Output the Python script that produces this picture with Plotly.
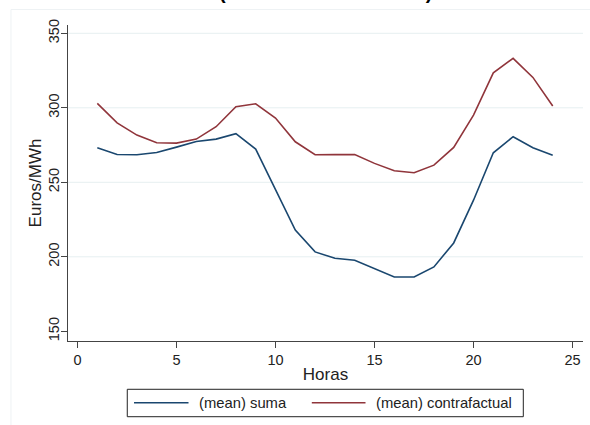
import plotly.graph_objects as go

horas = list(range(1, 25))
suma = [273.2, 268.7, 268.5, 270.0, 273.6, 277.4, 279.0, 282.6, 272.3, 244.7, 217.9, 203.3,
        199.0, 197.7, 192.1, 186.5, 186.5, 193.2, 209.3, 238.0, 269.8, 280.6, 273.2, 268.2]
contrafactual = [303.0, 289.9, 281.7, 276.5, 276.3, 279.0, 287.3, 300.7, 302.7, 293.1, 277.2, 268.5,
                 268.6, 268.7, 262.7, 257.7, 256.4, 261.5, 273.4, 295.1, 323.5, 333.2, 320.4, 301.2]
x_ticks = [0, 5, 10, 15, 20, 25]
y_ticks = [150, 200, 250, 300, 350]
series_names = ["(mean) suma", "(mean) contrafactual"]
series_colors = ["#1a476f", "#90353b"]
title_text = "(Precio medio horario)"

FONT = "Liberation Sans, Arial, sans-serif"

fig = go.Figure()
for name, vals, col in zip(series_names, [suma, contrafactual], series_colors):
    fig.add_trace(go.Scatter(x=horas, y=vals, mode="lines", name=name, showlegend=False,
                             line=dict(color=col, width=1.6)))

fig.update_layout(
    width=590, height=425,
    margin=dict(l=68, r=7, t=25, b=84, autoexpand=False),
    paper_bgcolor="white", plot_bgcolor="white",
    font=dict(family=FONT, size=14.5, color="#222"),
    showlegend=False,
    xaxis=dict(range=[-0.48, 25.53], tickvals=x_ticks, showgrid=False, zeroline=False,
               showline=True, linecolor="#444", linewidth=1,
               ticks="outside", ticklen=6, tickcolor="#444",
               title=dict(text="Horas", standoff=0), automargin=False),
    yaxis=dict(range=[143.5, 355.57], tickvals=y_ticks, zeroline=False,
               showgrid=False,
               showline=True, linecolor="#444", linewidth=1,
               ticks="outside", ticklen=6, tickcolor="#444", tickangle=-90,
               ticklabelstandoff=-4,
               title=dict(text="Euros/MWh", standoff=0), automargin=False),
)

# light gridlines at 200..350
for v in y_ticks[1:]:
    fig.add_shape(type="line", xref="paper", x0=0, x1=1, yref="y", y0=v, y1=v,
                  line=dict(color="#e6eff1", width=1), layer="below")

# faint outer graph-region border
fig.add_shape(type="rect", xref="paper", yref="paper", x0=-0.1107, x1=1.2, y0=-0.5, y1=1.049,
              line=dict(color="#eef2f4", width=1), layer="below")

# legend (drawn as a boxed key below the plot)
fig.add_shape(type="rect", xref="paper", yref="paper", x0=0.1151, x1=0.8841, y0=-0.2396, y1=-0.1528,
              line=dict(color="#222", width=1), fillcolor="white")
leg_y = -0.1953
for (lx0, lx1, tx), name, col in zip([(0.1282, 0.2340, 0.2500), (0.4734, 0.5777, 0.5941)],
                                     series_names, series_colors):
    fig.add_shape(type="line", xref="paper", yref="paper", x0=lx0, x1=lx1, y0=leg_y, y1=leg_y,
                  line=dict(color=col, width=1.6))
    fig.add_annotation(text=name, xref="paper", yref="paper", x=tx, xanchor="left",
                       y=leg_y, yanchor="middle", showarrow=False,
                       font=dict(size=14.8, color="#222", family=FONT))

fig.add_annotation(text="<b>" + title_text + "</b>", xref="paper", yref="paper",
                   x=0.5, xanchor="center", y=1.0627, yanchor="bottom", showarrow=False,
                   font=dict(size=20, color="black", family=FONT))

fig.write_html("out.html")
